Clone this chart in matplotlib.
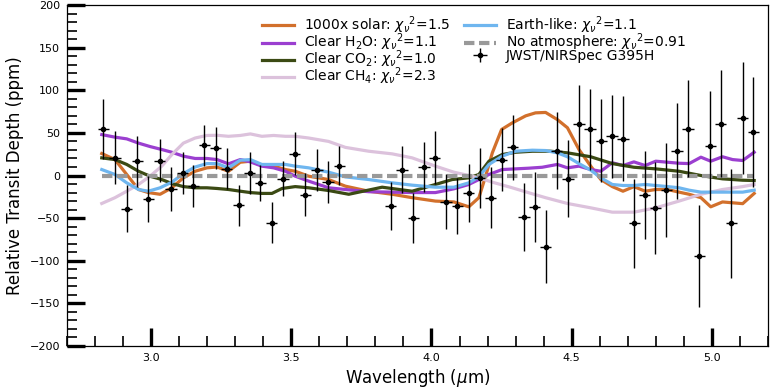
# Relative transit depth: JWST/NIRSpec G395H points + model spectra.
import numpy as np
import matplotlib.pyplot as plt
from matplotlib.ticker import MultipleLocator

# ---- data ----
wl_obs = [2.830, 2.871, 2.913, 2.951, 2.990, 3.030, 3.071, 3.112, 3.151, 3.190,
          3.231, 3.270, 3.312, 3.351, 3.390, 3.430, 3.470, 3.512, 3.550, 3.592,
          3.631, 3.671,
          3.854, 3.895, 3.935, 3.973, 4.012, 4.052, 4.092, 4.133, 4.172, 4.211,
          4.250, 4.290, 4.330, 4.368, 4.407, 4.446, 4.487, 4.526, 4.565, 4.605,
          4.644, 4.683, 4.723, 4.761, 4.799, 4.837, 4.876, 4.915, 4.955, 4.994,
          5.032, 5.070, 5.110, 5.148]
depth_obs = [54.7, 20.7, -38.7, 16.8, -28.0, 17.5, -15.6, 3.1, -12.5, 35.5,
             32.4, 7.8, -35.0, 3.0, -8.6, -55.5, -3.5, 25.8, -22.3, 6.3,
             -7.8, 11.7,
             -36.0, 7.0, -50.0, 10.0, 20.7, -30.8, -36.0, -20.3, -2.7, -26.0,
             18.7, 33.0, -48.8, -37.0, -83.6, 29.3, -3.5, 61.0, 54.0, 41.0,
             46.0, 43.0, -56.0, -23.0, -38.0, -17.0, 28.5, 55.0, -94.0, 35.0,
             61.0, -56.0, 67.6, 51.0]
err_obs = [35, 31, 28, 30, 27, 25, 26, 25, 25, 24,
           25, 24, 24, 25, 21, 24, 21, 25, 25, 25,
           25, 23,
           28, 28, 29, 29, 31, 32, 33, 34, 35, 36,
           37, 38, 40, 41, 43, 45, 45, 45, 47, 49,
           49, 50, 52, 52, 54, 55, 56, 57, 60, 64,
           63, 64, 66, 65]
wl_halfbin = 0.02

wl_solar = [2.824, 2.871, 2.913, 2.955, 2.990, 3.032, 3.074, 3.115, 3.157, 3.199,
            3.235, 3.276, 3.318, 3.354, 3.395, 3.437, 3.479, 3.514, 3.562, 3.633,
            3.693, 3.776, 3.860, 3.931, 4.014, 4.080, 4.133, 4.169, 4.193, 4.217,
            4.250, 4.288, 4.336, 4.371, 4.407, 4.449, 4.485, 4.526, 4.568, 4.604,
            4.645, 4.683, 4.722, 4.762, 4.800, 4.842, 4.883, 4.919, 4.961, 4.996,
            5.038, 5.074, 5.110, 5.151]
m_solar = [25.8, 18.7, 1.2, -16.4, -20.0, -22.0, -14.4, -2.7, 5.0, 9.0,
           10.0, 5.0, 15.6, 16.8, 11.7, 11.0, 7.0, 5.0, -0.8, -4.7,
           -12.5, -18.4, -22.0, -26.0, -30.0, -31.0, -36.7, -26.0, -0.8, 26.6,
           54.0, 61.7, 70.0, 73.5, 74.0, 65.6, 56.0, 30.5, 11.0, -4.7,
           -13.0, -18.4, -13.0, -18.4, -16.4, -16.4, -19.5, -22.0, -26.0, -36.7,
           -31.0, -32.0, -33.0, -21.0]

wl_h2o = [2.824, 2.871, 2.913, 2.955, 2.996, 3.038, 3.074, 3.115, 3.157, 3.199,
          3.235, 3.276, 3.318, 3.354, 3.395, 3.437, 3.479, 3.514, 3.562, 3.633,
          3.693, 3.776, 3.860, 3.931, 4.014, 4.080, 4.133, 4.169, 4.205, 4.252,
          4.300, 4.347, 4.395, 4.449, 4.485, 4.526, 4.568, 4.604, 4.645, 4.683,
          4.722, 4.762, 4.800, 4.842, 4.883, 4.919, 4.961, 4.996, 5.038, 5.074,
          5.110, 5.151]
m_h2o = [48.0, 45.0, 43.0, 38.0, 34.0, 30.5, 27.3, 22.7, 20.0, 20.0,
         18.7, 13.7, 18.7, 16.0, 11.0, 9.0, 5.0, -0.8, -6.6, -14.4,
         -16.4, -19.0, -19.5, -20.0, -20.0, -15.6, -10.5, -4.7, 1.2, 7.0,
         7.8, 8.6, 9.7, 13.0, 9.0, 11.0, 7.0, 5.0, 15.0, 11.7,
         16.0, 11.7, 16.8, 15.6, 14.4, 14.0, 21.5, 16.8, 22.0, 18.7,
         17.6, 27.3]

wl_co2 = [2.824, 2.871, 2.913, 2.955, 2.996, 3.038, 3.074, 3.115, 3.157, 3.199,
          3.235, 3.276, 3.318, 3.354, 3.395, 3.431, 3.467, 3.514, 3.562, 3.633,
          3.705, 3.824, 3.931, 4.014, 4.074, 4.133, 4.169, 4.205, 4.252, 4.300,
          4.360, 4.425, 4.485, 4.568, 4.645, 4.722, 4.800, 4.883, 4.961, 5.038,
          5.110, 5.151]
m_co2 = [20.7, 18.7, 13.0, 5.0, -0.8, -4.7, -9.4, -13.0, -14.4, -14.4,
         -15.2, -16.4, -18.4, -20.0, -21.0, -21.0, -15.2, -13.0, -14.4, -17.6,
         -22.0, -13.7, -18.4, -10.5, -4.7, -2.7, 1.2, 16.8, 24.6, 27.3,
         28.5, 28.5, 26.6, 22.0, 14.0, 9.7, 7.8, 5.0, 0.0, -3.9,
         -5.5, -5.9]

wl_ch4 = [2.824, 2.871, 2.913, 2.955, 2.996, 3.038, 3.074, 3.115, 3.157, 3.199,
          3.235, 3.276, 3.318, 3.354, 3.395, 3.437, 3.479, 3.514, 3.562, 3.633,
          3.693, 3.776, 3.860, 3.931, 4.014, 4.080, 4.133, 4.169, 4.217, 4.288,
          4.360, 4.407, 4.485, 4.568, 4.645, 4.722, 4.800, 4.883, 4.961, 5.038,
          5.110, 5.151]
m_ch4 = [-32.8, -26.0, -18.4, -10.5, -0.8, 11.0, 24.6, 38.0, 44.0, 47.0,
         47.2, 46.0, 47.0, 48.8, 46.0, 47.0, 46.0, 46.0, 44.0, 40.0,
         33.0, 28.5, 25.4, 20.7, 11.0, 3.9, 0.0, -2.7, -7.8, -14.4,
         -21.5, -26.0, -32.8, -37.9, -43.0, -43.0, -37.9, -30.0, -22.0, -16.4,
         -13.0, -10.5]

wl_earth = [2.824, 2.871, 2.913, 2.955, 2.990, 3.032, 3.074, 3.115, 3.157, 3.199,
            3.235, 3.276, 3.318, 3.354, 3.395, 3.437, 3.479, 3.514, 3.562, 3.633,
            3.693, 3.776, 3.860, 3.931, 4.014, 4.080, 4.133, 4.169, 4.205, 4.252,
            4.300, 4.360, 4.407, 4.449, 4.485, 4.526, 4.568, 4.604, 4.645, 4.683,
            4.722, 4.762, 4.800, 4.842, 4.883, 4.919, 4.961, 5.038, 5.110, 5.151]
m_earth = [7.0, 1.2, -8.6, -16.4, -18.4, -14.4, -7.8, 2.3, 10.0, 14.0,
           14.0, 9.0, 18.0, 18.7, 13.0, 13.0, 13.0, 11.0, 9.0, 3.9,
           -1.6, -4.7, -8.6, -11.3, -13.7, -13.7, -8.6, -1.6, 13.0, 22.7,
           28.5, 29.7, 29.3, 26.6, 22.0, 14.0, 6.3, -2.7, -10.5, -11.7,
           -11.7, -10.5, -11.7, -13.0, -14.4, -17.2, -19.5, -19.5, -19.5, -17.2]

wl_flat = [2.824, 5.151]
m_flat = [0.0, 0.0]

labels = ["1000x solar: $\\chi_{\\nu}{}^{2}$=1.5",
          "Clear H$_2$O: $\\chi_{\\nu}{}^{2}$=1.1",
          "Clear CO$_2$: $\\chi_{\\nu}{}^{2}$=1.0",
          "Clear CH$_4$: $\\chi_{\\nu}{}^{2}$=2.3",
          "Earth-like: $\\chi_{\\nu}{}^{2}$=1.1",
          "No atmosphere: $\\chi_{\\nu}{}^{2}$=0.91",
          "JWST/NIRSpec G395H"]

# ---- style ----
C_SOLAR = "#d2702c"
C_H2O   = "#9b3fd0"
C_CO2   = "#3b4a14"
C_CH4   = "#dcc2dc"
C_EARTH = "#6fb6ef"
C_FLAT  = "#999999"
LW = 2.3

fig = plt.figure(figsize=(7.82, 3.90), dpi=100)
ax = fig.add_axes([0.0857, 0.1128, 0.8963, 0.8743])

ax.plot(wl_solar, m_solar, color=C_SOLAR, lw=LW, label=labels[0])
ax.plot(wl_h2o, m_h2o, color=C_H2O, lw=LW, label=labels[1])
ax.plot(wl_co2, m_co2, color=C_CO2, lw=LW, label=labels[2])
ax.plot(wl_ch4, m_ch4, color=C_CH4, lw=LW, label=labels[3])
ax.plot(wl_earth, m_earth, color=C_EARTH, lw=LW, label=labels[4])
ax.plot(wl_flat, m_flat, color=C_FLAT, lw=3, ls=(0, (2.5, 1.1)), label=labels[5])
ax.errorbar(wl_obs, depth_obs, yerr=err_obs, xerr=wl_halfbin, fmt="o", ms=3,
            color="black", ecolor="black", elinewidth=1.0, capsize=0,
            label=labels[6], zorder=5)

ax.set_xlim(2.7, 5.2)
ax.set_ylim(-200, 200)
ax.xaxis.set_major_locator(MultipleLocator(0.5))
ax.xaxis.set_minor_locator(MultipleLocator(0.1))
ax.yaxis.set_major_locator(MultipleLocator(50))
ax.yaxis.set_minor_locator(MultipleLocator(10))
ax.tick_params(which="both", direction="in", top=False, right=False, labelsize=8)
ax.tick_params(which="major", length=13, width=2.4, pad=5)
ax.tick_params(which="minor", length=7, width=1.2)
for sp in ax.spines.values():
    sp.set_linewidth(0.9)

ax.set_xlabel("Wavelength ($\\mu$m)", fontsize=12, labelpad=3)
ax.set_ylabel("Relative Transit Depth (ppm)", fontsize=12, labelpad=4)

ax.legend(ncol=2, loc="upper left", bbox_to_anchor=(0.265, 1.0), frameon=False,
          fontsize=10, handlelength=2.3, handletextpad=0.7, columnspacing=1.0,
          labelspacing=-0.33, borderaxespad=0.3)

# tick labels of the panel above, cut by the image edge
for xv in [3.0, 3.5, 4.0, 4.5, 5.0]:
    xf = ax.transData.transform((xv, 0))[0] / fig.bbox.width
    fig.text(xf, 1.0 - 2.5 / 390, f"{xv:.1f}", fontsize=8, ha="center", va="bottom")

fig.savefig("out.png", dpi=100)
